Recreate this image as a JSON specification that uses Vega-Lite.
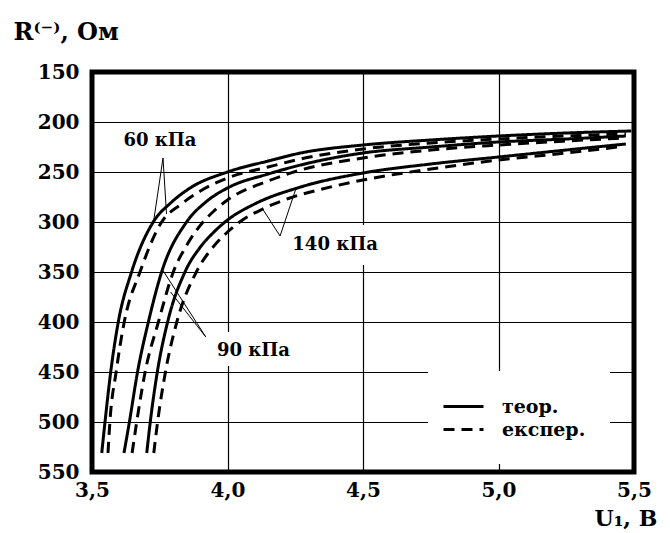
{
  "$schema": "https://vega.github.io/schema/vega-lite/v6.json",
  "width": 542,
  "height": 400,
  "autosize": {"type": "none"},
  "padding": {"left": 92, "top": 72, "right": 36, "bottom": 61},
  "background": "white",
  "config": {
    "view": {"stroke": "black", "strokeWidth": 5},
    "axis": {
      "domain": false,
      "ticks": false,
      "grid": true,
      "gridColor": "black",
      "gridWidth": 1.2,
      "gridOpacity": 1,
      "labelFont": "DejaVu Serif",
      "labelFontWeight": "bold",
      "labelFontSize": 20,
      "labelColor": "black",
      "labelFlush": false,
      "titleFont": "DejaVu Serif",
      "titleFontWeight": "bold",
      "titleColor": "black"
    }
  },
  "datasets": {
    "curves": [
      {"curve": "A", "type": "теор.", "U": 3.536, "R": 531},
      {"curve": "A", "type": "теор.", "U": 3.548, "R": 500},
      {"curve": "A", "type": "теор.", "U": 3.569, "R": 450},
      {"curve": "A", "type": "теор.", "U": 3.597, "R": 400},
      {"curve": "A", "type": "теор.", "U": 3.646, "R": 350},
      {"curve": "A", "type": "теор.", "U": 3.726, "R": 300},
      {"curve": "A", "type": "теор.", "U": 3.79, "R": 281},
      {"curve": "A", "type": "теор.", "U": 3.862, "R": 266},
      {"curve": "A", "type": "теор.", "U": 4.0, "R": 250},
      {"curve": "A", "type": "теор.", "U": 4.15, "R": 239},
      {"curve": "A", "type": "теор.", "U": 4.27, "R": 231},
      {"curve": "A", "type": "теор.", "U": 4.5, "R": 223},
      {"curve": "A", "type": "теор.", "U": 4.75, "R": 218},
      {"curve": "A", "type": "теор.", "U": 5.0, "R": 214},
      {"curve": "A", "type": "теор.", "U": 5.25, "R": 211},
      {"curve": "A", "type": "теор.", "U": 5.49, "R": 209},

      {"curve": "B", "type": "експер.", "U": 3.559, "R": 531},
      {"curve": "B", "type": "експер.", "U": 3.566, "R": 500},
      {"curve": "B", "type": "експер.", "U": 3.589, "R": 450},
      {"curve": "B", "type": "експер.", "U": 3.619, "R": 400},
      {"curve": "B", "type": "експер.", "U": 3.677, "R": 350},
      {"curve": "B", "type": "експер.", "U": 3.757, "R": 300},
      {"curve": "B", "type": "експер.", "U": 3.83, "R": 282},
      {"curve": "B", "type": "експер.", "U": 3.9, "R": 269},
      {"curve": "B", "type": "експер.", "U": 4.0, "R": 256},
      {"curve": "B", "type": "експер.", "U": 4.15, "R": 245},
      {"curve": "B", "type": "експер.", "U": 4.27, "R": 237},
      {"curve": "B", "type": "експер.", "U": 4.5, "R": 227},
      {"curve": "B", "type": "експер.", "U": 4.75, "R": 221},
      {"curve": "B", "type": "експер.", "U": 5.0, "R": 217},
      {"curve": "B", "type": "експер.", "U": 5.25, "R": 214},
      {"curve": "B", "type": "експер.", "U": 5.47, "R": 212},

      {"curve": "C", "type": "теор.", "U": 3.618, "R": 531},
      {"curve": "C", "type": "теор.", "U": 3.638, "R": 500},
      {"curve": "C", "type": "теор.", "U": 3.668, "R": 450},
      {"curve": "C", "type": "теор.", "U": 3.708, "R": 400},
      {"curve": "C", "type": "теор.", "U": 3.757, "R": 350},
      {"curve": "C", "type": "теор.", "U": 3.849, "R": 300},
      {"curve": "C", "type": "теор.", "U": 3.92, "R": 280},
      {"curve": "C", "type": "теор.", "U": 4.0, "R": 266},
      {"curve": "C", "type": "теор.", "U": 4.15, "R": 252},
      {"curve": "C", "type": "теор.", "U": 4.27, "R": 243},
      {"curve": "C", "type": "теор.", "U": 4.5, "R": 231},
      {"curve": "C", "type": "теор.", "U": 4.75, "R": 225},
      {"curve": "C", "type": "теор.", "U": 5.0, "R": 220},
      {"curve": "C", "type": "теор.", "U": 5.25, "R": 217},
      {"curve": "C", "type": "теор.", "U": 5.47, "R": 214},

      {"curve": "D", "type": "експер.", "U": 3.648, "R": 531},
      {"curve": "D", "type": "експер.", "U": 3.665, "R": 500},
      {"curve": "D", "type": "експер.", "U": 3.696, "R": 450},
      {"curve": "D", "type": "експер.", "U": 3.745, "R": 400},
      {"curve": "D", "type": "експер.", "U": 3.8, "R": 350},
      {"curve": "D", "type": "експер.", "U": 3.85, "R": 323},
      {"curve": "D", "type": "експер.", "U": 3.91, "R": 300},
      {"curve": "D", "type": "експер.", "U": 3.95, "R": 289},
      {"curve": "D", "type": "експер.", "U": 4.0, "R": 278},
      {"curve": "D", "type": "експер.", "U": 4.15, "R": 259},
      {"curve": "D", "type": "експер.", "U": 4.27, "R": 248},
      {"curve": "D", "type": "експер.", "U": 4.5, "R": 236},
      {"curve": "D", "type": "експер.", "U": 4.75, "R": 228},
      {"curve": "D", "type": "експер.", "U": 5.0, "R": 223},
      {"curve": "D", "type": "експер.", "U": 5.25, "R": 219},
      {"curve": "D", "type": "експер.", "U": 5.46, "R": 216},

      {"curve": "E", "type": "теор.", "U": 3.702, "R": 531},
      {"curve": "E", "type": "теор.", "U": 3.715, "R": 500},
      {"curve": "E", "type": "теор.", "U": 3.741, "R": 450},
      {"curve": "E", "type": "теор.", "U": 3.779, "R": 400},
      {"curve": "E", "type": "теор.", "U": 3.843, "R": 350},
      {"curve": "E", "type": "теор.", "U": 3.9, "R": 325},
      {"curve": "E", "type": "теор.", "U": 3.95, "R": 310},
      {"curve": "E", "type": "теор.", "U": 4.0, "R": 298},
      {"curve": "E", "type": "теор.", "U": 4.1, "R": 282},
      {"curve": "E", "type": "теор.", "U": 4.27, "R": 265},
      {"curve": "E", "type": "теор.", "U": 4.5, "R": 251},
      {"curve": "E", "type": "теор.", "U": 4.75, "R": 242},
      {"curve": "E", "type": "теор.", "U": 5.0, "R": 235},
      {"curve": "E", "type": "теор.", "U": 5.25, "R": 228},
      {"curve": "E", "type": "теор.", "U": 5.47, "R": 222},

      {"curve": "F", "type": "експер.", "U": 3.728, "R": 531},
      {"curve": "F", "type": "експер.", "U": 3.742, "R": 500},
      {"curve": "F", "type": "експер.", "U": 3.771, "R": 450},
      {"curve": "F", "type": "експер.", "U": 3.813, "R": 400},
      {"curve": "F", "type": "експер.", "U": 3.885, "R": 350},
      {"curve": "F", "type": "експер.", "U": 3.95, "R": 324},
      {"curve": "F", "type": "експер.", "U": 4.0, "R": 310},
      {"curve": "F", "type": "експер.", "U": 4.05, "R": 299},
      {"curve": "F", "type": "експер.", "U": 4.13, "R": 287},
      {"curve": "F", "type": "експер.", "U": 4.23, "R": 276},
      {"curve": "F", "type": "експер.", "U": 4.35, "R": 267},
      {"curve": "F", "type": "експер.", "U": 4.5, "R": 258},
      {"curve": "F", "type": "експер.", "U": 4.75, "R": 247},
      {"curve": "F", "type": "експер.", "U": 5.0, "R": 238},
      {"curve": "F", "type": "експер.", "U": 5.25, "R": 231},
      {"curve": "F", "type": "експер.", "U": 5.44, "R": 225}
    ],
    "leaders": [
      {"U": 3.762, "R": 236, "U2": 3.727, "R2": 300},
      {"U": 3.762, "R": 236, "U2": 3.775, "R2": 292},
      {"U": 3.92, "R": 415, "U2": 3.763, "R2": 349},
      {"U": 3.92, "R": 415, "U2": 3.79, "R2": 370},
      {"U": 4.194, "R": 314, "U2": 4.132, "R2": 288},
      {"U": 4.194, "R": 314, "U2": 4.252, "R2": 267}
    ],
    "boxes": [
      {"U": 3.943, "U2": 4.253, "R": 410, "R2": 444},
      {"U": 4.225, "U2": 4.57, "R": 303, "R2": 343}
    ],
    "labels": [
      {"U": 3.751, "R": 219, "label": "60 кПа"},
      {"U": 4.096, "R": 429, "label": "90 кПа"},
      {"U": 4.397, "R": 323, "label": "140 кПа"}
    ]
  },
  "encoding": {
    "x": {
      "field": "U",
      "type": "quantitative",
      "scale": {"domain": [3.5, 5.5], "nice": false, "zero": false},
      "axis": {
        "values": [3.5, 4.0, 4.5, 5.0, 5.5],
        "labelExpr": "replace(format(datum.value, '.1f'), '.', ',')",
        "labelPadding": 8,
        "title": "U₁, В",
        "titleFontSize": 22,
        "titleX": 502,
        "titleY": 53,
        "titleAlign": "left",
        "titleBaseline": "alphabetic",
        "titleAngle": 0
      }
    },
    "y": {
      "field": "R",
      "type": "quantitative",
      "scale": {"domain": [150, 550], "reverse": true, "nice": false, "zero": false},
      "axis": {
        "values": [150, 200, 250, 300, 350, 400, 450, 500, 550],
        "labelPadding": 13,
        "title": "R⁽⁻⁾, Ом",
        "titleFontSize": 24,
        "titleAngle": 0,
        "titleX": -79,
        "titleY": -33,
        "titleAlign": "left",
        "titleBaseline": "alphabetic"
      }
    }
  },
  "layer": [
    {
      "data": {"name": "boxes"},
      "mark": {"type": "rect", "fill": "white", "stroke": null},
      "encoding": {
        "x2": {"field": "U2"},
        "y2": {"field": "R2"}
      }
    },
    {
      "data": {"name": "curves"},
      "mark": {"type": "line", "color": "black", "strokeWidth": 3, "interpolate": "monotone"},
      "encoding": {
        "detail": {"field": "curve", "type": "nominal"},
        "strokeDash": {
          "field": "type",
          "type": "nominal",
          "scale": {"domain": ["теор.", "експер."], "range": [[1, 0], [11, 7]]},
          "legend": {
            "orient": "none",
            "legendX": 336,
            "legendY": 299,
            "title": null,
            "fillColor": "white",
            "padding": 24,
            "symbolType": "M-2,0H2",
            "symbolSize": 400,
            "symbolStrokeWidth": 3,
            "symbolStrokeColor": "black",
            "labelFont": "DejaVu Serif",
            "labelFontWeight": "bold",
            "labelFontSize": 19,
            "labelColor": "black",
            "labelOffset": 27,
            "rowPadding": 1
          }
        }
      }
    },
    {
      "data": {"name": "leaders"},
      "mark": {"type": "rule", "color": "black", "strokeWidth": 1},
      "encoding": {
        "x2": {"field": "U2"},
        "y2": {"field": "R2"}
      }
    },
    {
      "data": {"name": "labels"},
      "mark": {"type": "text", "font": "DejaVu Serif", "fontWeight": "bold", "fontSize": 18, "color": "black", "align": "center", "baseline": "middle"},
      "encoding": {
        "text": {"field": "label", "type": "nominal"}
      }
    }
  ]
}
